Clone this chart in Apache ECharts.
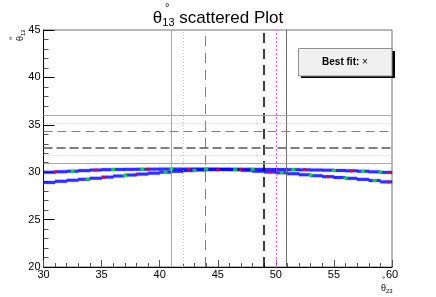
<!DOCTYPE html>
<html><head><meta charset="utf-8">
<script src="https://cdn.jsdelivr.net/npm/echarts@6/dist/echarts.min.js"></script>
<style>html,body{margin:0;padding:0;background:#fff}#c{width:436px;height:297px}</style>
</head><body><div id="c"></div>
<script>
// theta23 sample positions
const theta23 = [30.5,31.5,32.5,33.5,34.5,35.5,36.5,37.5,38.5,39.5,40.5,41.5,42.5,43.5,44.5,45.5,46.5,47.5,48.5,49.5,50.5,51.5,52.5,53.5,54.5,55.5,56.5,57.5,58.5,59.5];
// upper branch of theta12 (blue)
const upperBlue = [30.0,30.05,30.1,30.17,30.23,30.27,30.29,30.3,30.31,30.32,30.33,30.33,30.33,30.33,30.33,30.32,30.31,30.31,30.3,30.29,30.28,30.27,30.25,30.23,30.21,30.18,30.15,30.1,30.04,29.98];
// lower branch of theta12 (blue)
const lowerBlue = [28.92,29.04,29.15,29.25,29.36,29.48,29.6,29.7,29.8,29.9,30.0,30.09,30.17,30.23,30.27,30.28,30.27,30.2,30.1,30.02,29.94,29.84,29.73,29.63,29.53,29.44,29.35,29.24,29.12,28.98];
// sparse green points [theta23, theta12]
const greenPts = [[32.5,30.1],[36,30.28],[38.5,30.31],[41,30.33],[44,30.31],[48,30.3],[51.5,30.27],[55,30.19],[57.5,30.1],[59,30.01],
  [33.8,29.28],[37,29.65],[40.5,30.0],[43,30.2],[46.5,30.26],[50.5,29.94],[53,29.68],[56,29.4],[58.5,29.12]];
// sparse red points [theta23, theta12]
const redPts = [[31,30.02],[34.5,30.22],[39,30.3],[42.5,30.3],[47,30.28],[52.5,30.28],[56.5,30.14],[59.8,29.96],
  [35.2,29.45],[38,29.75],[45,30.25],[49.5,30.0],[54.5,29.53],[59.7,28.96]];
// reference lines
const vLines = [41.0, 42.0, 43.9, 49.0, 50.05, 50.9];
const hLines = [36.0, 35.15, 34.3, 32.6, 31.8, 30.95];
const xTicks = [30,35,40,45,50,55,60];
const yTicks = [20,25,30,35,40,45];

const vStyles = [
  {color:'#a8a8a8', type:'solid', width:1},
  {color:'#ff9cff', type:[1,2], width:1},
  {color:'#808080', type:[10,7], width:1},
  {color:'#000000', type:[10,6], width:1.5},
  {color:'#ff40ff', type:[2,2], width:1},
  {color:'#707070', type:'solid', width:1}
];
const hStyles = [
  {color:'#a8a8a8', type:'solid', width:1},
  {color:'#f0a0f0', type:[1,2], width:1},
  {color:'#808080', type:[9,5], width:1},
  {color:'#808080', type:[9,4], width:2},
  {color:'#f0a0f0', type:[1,2], width:1},
  {color:'#a8a8a8', type:'solid', width:1}
];

const upperData = theta23.map((x,i)=>[x,upperBlue[i]]);
const lowerData = theta23.map((x,i)=>[x,lowerBlue[i]]);
const allBlue = upperData.concat(lowerData);

const markData = [];
vLines.forEach((v,i)=>markData.push({xAxis:v, lineStyle:vStyles[i]}));
hLines.forEach((v,i)=>markData.push({yAxis:v, lineStyle:hStyles[i]}));

const font = 'Liberation Sans, Arial, Helvetica, sans-serif';
const chart = echarts.init(document.getElementById('c'), null, {renderer:'canvas'});
chart.setOption({
  animation:false,
  backgroundColor:'#fff',
  title:{
    text:'{a|θ}{b|13}{a| scattered Plot}',
    left:'center', top:3,
    textStyle:{fontWeight:'normal', rich:{
      a:{fontSize:17, fontFamily:font, color:'#000', fontWeight:'normal'},
      b:{fontSize:11, fontFamily:font, color:'#000', fontWeight:'normal', verticalAlign:'bottom', padding:[9,0,0,0]}
    }}
  },
  grid:{left:43.5, right:44, top:30, bottom:30, show:true, borderColor:'#707070', borderWidth:1},
  xAxis:{
    type:'value', min:30, max:60, interval:5,
    axisLine:{show:true, onZero:false, lineStyle:{color:'#000', width:1}},
    axisTick:{show:true, inside:true, length:7, lineStyle:{color:'#555'}},
    minorTick:{show:true, splitNumber:5, length:4, lineStyle:{color:'#555'}},
    splitLine:{show:false},
    axisLabel:{color:'#000', fontSize:11, fontFamily:font, margin:2,
      formatter:v=> xTicks.includes(v) ? String(v) : ''}
  },
  yAxis:{
    type:'value', min:20, max:45, interval:5,
    axisLine:{show:true, onZero:false, lineStyle:{color:'#000', width:1}},
    axisTick:{show:true, inside:true, length:11, lineStyle:{color:'#000'}},
    minorTick:{show:true, splitNumber:5, length:5, lineStyle:{color:'#555'}},
    splitLine:{show:false},
    axisLabel:{color:'#000', fontSize:11, fontFamily:font, margin:3,
      formatter:v=> yTicks.includes(v) ? String(v) : ''}
  },
  series:[
    {type:'scatter', data:[], silent:true,
      markLine:{silent:true, symbol:'none', label:{show:false}, data:markData, animation:false}},
    {type:'scatter', data:allBlue, symbol:'rect', symbolSize:[12,5], silent:true,
      itemStyle:{color:'rgba(150,150,230,0.3)'}},
    {type:'scatter', data:allBlue, symbol:'rect', symbolSize:[12,3], silent:true,
      itemStyle:{color:'#0000ff'}},
    {type:'scatter', data:greenPts, symbol:'rect', symbolSize:[4,3], silent:true, z:3,
      itemStyle:{color:'#00ff00'}},
    {type:'scatter', data:redPts, symbol:'rect', symbolSize:[3,3], silent:true, z:3,
      itemStyle:{color:'#ff0000'}}
  ],
  graphic:[
    {type:'text', left:165, top:2, style:{text:'°', fontSize:11, fontFamily:font, fill:'#000'}},
    {type:'rect', shape:{x:301, y:51, width:94, height:27}, style:{fill:'#000'}},
    {type:'rect', shape:{x:298.5, y:48.5, width:93.5, height:27.5}, style:{fill:'#f0f0f0', stroke:'#909090', lineWidth:1}},
    {type:'text', x:345, y:62.5, style:{
      text:'{b|Best fit: }{n|×}', align:'center', verticalAlign:'middle',
      rich:{b:{fontSize:10, fontWeight:'bold', fontFamily:font, fill:'#000'}, n:{fontSize:10, fontFamily:font, fill:'#000'}}}},
    {type:'text', x:381, y:283, style:{
      text:'θ{s|23}', rich:{s:{fontSize:6, fontFamily:font, fill:'#000', padding:[5,0,0,0]}}, fontSize:9, fontFamily:font, fill:'#000'}},
    {type:'text', x:382, y:276, style:{text:'°', fontSize:8, fontFamily:font, fill:'#000'}},
    {type:'text', x:15, y:41, rotation:Math.PI/2, style:{
      text:'θ{s|12}', rich:{s:{fontSize:6, fontFamily:font, fill:'#000', padding:[5,0,0,0]}}, fontSize:9, fontFamily:font, fill:'#000'}},
    {type:'text', x:9, y:40, rotation:Math.PI/2, style:{text:'°', fontSize:8, fontFamily:font, fill:'#000'}}
  ]
});
</script></body></html>
